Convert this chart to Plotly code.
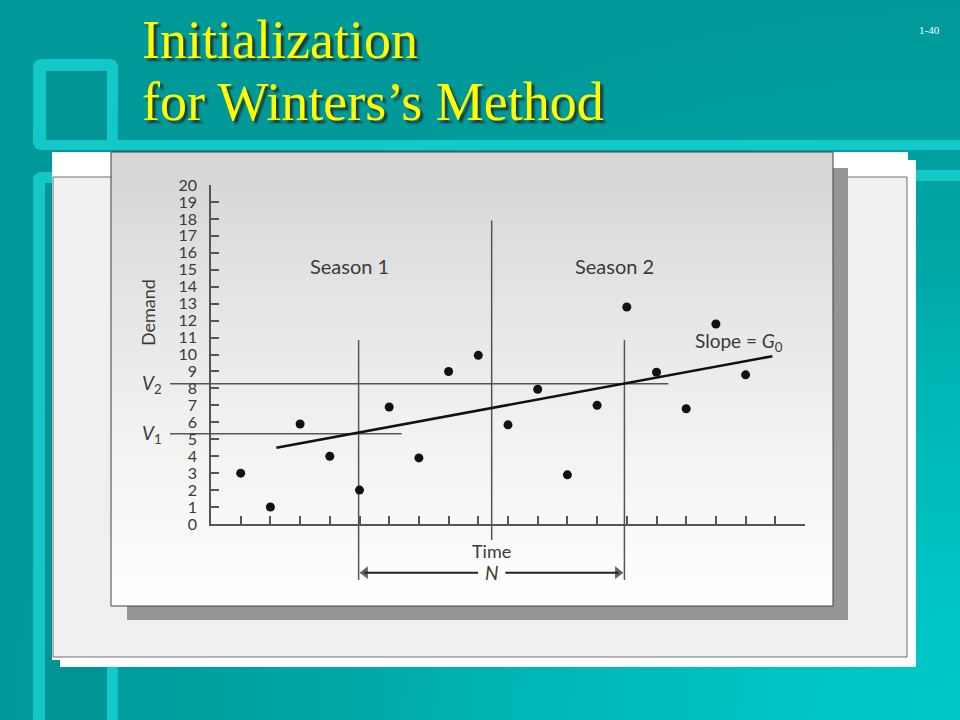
import math
import plotly.graph_objects as go

W, H = 960, 720

# ---------------- data ----------------
periods = list(range(1, 19))
demand = [3.0, 1.0, 5.9, 4.0, 2.0, 6.9, 3.9, 9.0, 9.95, 5.85,
          7.95, 2.9, 7.0, 12.8, 8.95, 6.8, 11.8, 8.8]
trend_t = [2.2, 18.9]
trend_v = [4.5, 9.9]
V1 = 5.33
V2 = 8.28
v1_end = 6.42
v2_end = 15.4
ref_start = -1.38
season_centers = [4.97, 13.92]
season_names = ["Season 1", "Season 2"]
season_divider = 9.45
season_line_top = 10.85
season_line_bottom = -3.3
divider_top = 17.9
divider_bottom = -0.95
arrow_level = -2.87
arrow_gap = 0.46
y_ticks = list(range(0, 21))
x_ticks = list(range(1, 21))
X_MAX, Y_MAX = 20, 20

# ---------------- geometry of the drawn axes (pixels) ----------------
AX_L, AX_R = 211, 805
AX_B, AX_T = 524, 185
ux = (AX_R - AX_L) / X_MAX
uy = (AX_B - AX_T) / Y_MAX
xB = [-AX_L / ux, (W - AX_L) / ux]
yB = [-(H - AX_B) / uy, AX_B / uy]

TEAL = "#009999"
CYAN = "#12c8c8"
INNER = "#009494"
INK = "#3a3a3a"
LINE = "#555555"


def rect(x0, y0, x1, y1):
    return [x0, x1, x1, x0, x0], [y0, y0, y1, y1, y0]


def rrect(x0, y0, x1, y1, r, n=6):
    xs, ys = [], []
    corners = [(x1 - r, y0 + r, -90, 0), (x1 - r, y1 - r, 0, 90),
               (x0 + r, y1 - r, 90, 180), (x0 + r, y0 + r, 180, 270)]
    for cx, cy, a0, a1 in corners:
        for k in range(n + 1):
            a = math.radians(a0 + (a1 - a0) * k / n)
            xs.append(cx + r * math.cos(a))
            ys.append(cy + r * math.sin(a))
    xs.append(xs[0]); ys.append(ys[0])
    return xs, ys


def deco(xy, fill, line_color=None, line_width=0, gradient=None):
    xs, ys = xy
    kw = dict(x=xs, y=ys, mode="lines", fill="toself", fillcolor=fill,
              line=dict(color=line_color or fill, width=line_width),
              hoverinfo="skip", showlegend=False, xaxis="x", yaxis="y")
    if gradient is not None:
        kw["fillgradient"] = gradient
    return go.Scatter(**kw)


fig = go.Figure()

# background (radial, brightest in bottom-right corner)
fig.add_trace(deco(rect(0, 0, 2 * W, 2 * H), TEAL, gradient=dict(
    type="radial",
    colorscale=[[0, "#00c8c8"], [0.2, "#00c3c3"], [0.45, "#00b6b6"],
                [0.6, "#00aaaa"], [0.8, "#009f9f"], [1, "#009999"]])))

# cyan frames
fig.add_trace(deco(rrect(33, 59, 118, 150, 8), CYAN))
fig.add_trace(deco(rect(46, 71, 107, 140), INNER))
fig.add_trace(deco(rect(107, 140, 960, 150), CYAN))
fig.add_trace(deco(rrect(33, 172, 118, 780, 8), CYAN))
fig.add_trace(deco(rect(45, 183, 107, 780), INNER))
fig.add_trace(deco(rect(107, 170, 960, 181), CYAN))

# white panel + grey box
fig.add_trace(deco(rect(52, 152, 908, 660), "#ffffff"))
fig.add_trace(deco(rect(60, 160, 916, 667), "#ffffff"))
fig.add_trace(deco(rect(53, 177, 907, 657), "#f0f0f0", "#707070", 1))

# chart card with shadow (light at bottom, grey at top)
fig.add_trace(deco(rect(127, 168, 848, 620), "#959595"))
fig.add_trace(deco(rect(111, 152, 833, 606), "#e8e8e8", "#404040", 1,
                   gradient=dict(type="vertical",
                                 colorscale=[[0, "#ffffff"], [0.45, "#efefef"], [1, "#d5d5d5"]])))

# ---------------- chart marks (data axes x2/y2) ----------------
def seg(xs, ys, color=LINE, width=1.5):
    return go.Scatter(x=xs, y=ys, mode="lines", line=dict(color=color, width=width),
                      hoverinfo="skip", showlegend=False, xaxis="x2", yaxis="y2")


fig.add_trace(seg([ref_start, v1_end], [V1, V1]))
fig.add_trace(seg([ref_start, v2_end], [V2, V2]))
for c in season_centers:
    fig.add_trace(seg([c, c], [season_line_top, season_line_bottom]))
fig.add_trace(seg([season_divider, season_divider], [divider_top, divider_bottom]))
fig.add_trace(seg(trend_t, trend_v, color="#111111", width=2.5))
fig.add_trace(go.Scatter(x=periods, y=demand, mode="markers",
                         marker=dict(color="#111111", size=9),
                         hoverinfo="skip", showlegend=False, xaxis="x2", yaxis="y2"))

# N double arrow (shafts + heads)
fig.add_trace(seg([season_centers[0] + 0.2, season_divider - arrow_gap], [arrow_level] * 2,
                  color="#222222", width=2))
fig.add_trace(seg([season_divider + arrow_gap, season_centers[1] - 0.2], [arrow_level] * 2,
                  color="#222222", width=2))
fig.add_trace(go.Scatter(x=[season_centers[0] + 0.22, season_centers[1] - 0.22],
                         y=[arrow_level, arrow_level], mode="markers",
                         marker=dict(symbol=["triangle-left", "triangle-right"], size=[11, 11],
                                     color="#222222", line=dict(width=0)),
                         hoverinfo="skip", showlegend=False, xaxis="x2", yaxis="y2"))

# empty trace to host the visible axes
fig.add_trace(go.Scatter(x=[], y=[], xaxis="x3", yaxis="y3", showlegend=False, hoverinfo="skip"))

ann = []
chart_font = "Lato"


def txt(x, y, s, size, **kw):
    d = dict(x=x, y=y, xref="x2", yref="y2", text=s, showarrow=False,
             font=dict(family=chart_font, size=size, color=INK),
             xanchor="center", yanchor="middle")
    d.update(kw)
    return d


for c, name in zip(season_centers, season_names):
    ann.append(txt(c - 0.32, 15.2, name, 20))
ann.append(txt(17.78, 10.74, "Slope = <i>G</i><sub>0</sub>", 19))
ann.append(txt(season_divider, -1.6, "Time", 18))
ann.append(txt(season_divider, arrow_level, "<i>N</i>", 19))
ann.append(txt(-1.99, V2, "<i>V</i><sub>2</sub>", 19))
ann.append(txt(-1.99, V1, "<i>V</i><sub>1</sub>", 19))
ann.append(txt(-2.12, 12.45, "Demand", 18, textangle=-90))

# title and page number
title_font = dict(family="Liberation Serif", size=54, color="#ffff00",
                  shadow="3px 3px 2px #1d3b3b")
ann.append(dict(x=140 / W, y=1 - 40 / H, xref="paper", yref="paper", text="Initialization",
                showarrow=False, xanchor="left", yanchor="middle", font=title_font))
ann.append(dict(x=140 / W, y=1 - 102 / H, xref="paper", yref="paper", text="for Winters’s Method",
                showarrow=False, xanchor="left", yanchor="middle", font=title_font))
ann.append(dict(x=929 / W, y=1 - 30 / H, xref="paper", yref="paper", text="1-40",
                showarrow=False, xanchor="center", yanchor="middle",
                font=dict(family="Liberation Serif", size=11, color="#ffffff")))

hidden = dict(visible=False, showgrid=False, zeroline=False, fixedrange=True, automargin=False)

fig.update_layout(
    template="none",
    width=W, height=H, autosize=False,
    margin=dict(l=0, r=0, t=0, b=0, pad=0, autoexpand=False),
    paper_bgcolor=TEAL, plot_bgcolor="rgba(0,0,0,0)",
    showlegend=False,
    xaxis=dict(hidden, domain=[0, 1], range=[0, W], anchor="y"),
    yaxis=dict(hidden, domain=[0, 1], range=[H, 0], anchor="x"),
    xaxis2=dict(hidden, domain=[0, 1], range=xB, anchor="y2"),
    yaxis2=dict(hidden, domain=[0, 1], range=yB, anchor="x2"),
    xaxis3=dict(domain=[AX_L / W, AX_R / W], range=[0, X_MAX], anchor="y3",
                showline=True, linecolor=LINE, linewidth=1.5,
                ticks="inside", ticklen=8, tickwidth=1.5, tickcolor=LINE,
                tickmode="array", tickvals=x_ticks, showticklabels=False,
                showgrid=False, zeroline=False, fixedrange=True, automargin=False),
    yaxis3=dict(domain=[(H - AX_B) / H, (H - AX_T) / H], range=[0, Y_MAX], anchor="x3",
                showline=True, linecolor=LINE, linewidth=1.5,
                ticks="inside", ticklen=8, tickwidth=1.5, tickcolor=LINE,
                tickmode="array", tickvals=y_ticks, ticktext=[str(v) for v in y_ticks],
                tickfont=dict(family=chart_font, size=16, color=INK),
                ticklabelstandoff=9,
                showgrid=False, zeroline=False, fixedrange=True, automargin=False),
    annotations=ann,
)

fig.write_html("out.html", config={"displayModeBar": False},
               post_script="document.body.style.margin='0';document.body.style.overflow='hidden';")
